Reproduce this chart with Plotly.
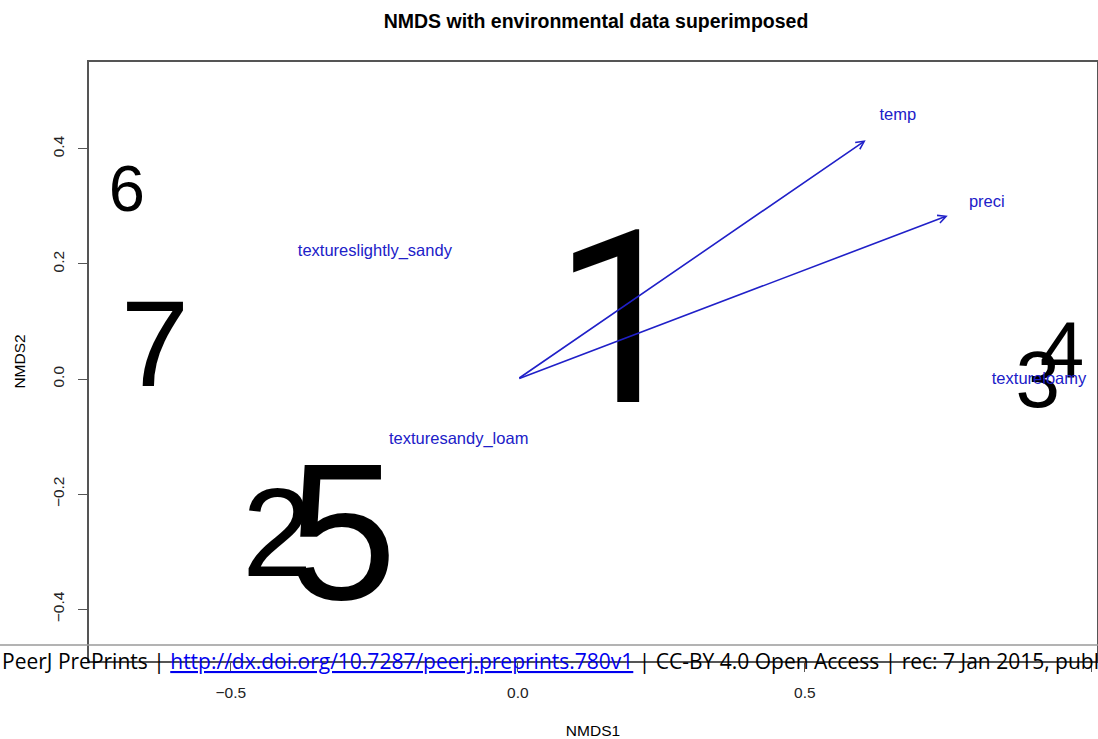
import plotly.graph_objects as go

# Site scores (NMDS1, NMDS2) and their label sizes
site_labels = ["1", "2", "3", "4", "5", "6", "7"]
site_x = [0.180, -0.419, 0.906, 0.948, -0.305, -0.681, -0.632]
site_y = [0.066, -0.288, -0.014, 0.038, -0.298, 0.321, 0.042]
site_size = [242, 126, 80, 80, 195, 65, 123]

# Environmental vectors
vec_names = ["temp", "preci"]
vec_x = [0.606, 0.749]
vec_y = [0.415, 0.284]
vec_lab_x = [0.662, 0.817]
vec_lab_y = [0.458, 0.307]

# Factor centroids
fac_names = ["textureslightly_sandy", "texturesandy_loam", "textureloamy"]
fac_x = [-0.249, -0.103, 0.908]
fac_y = [0.221, -0.106, -0.002]

x_ticks = [-0.5, 0.0, 0.5, 1.0]
y_ticks = [-0.4, -0.2, 0.0, 0.2, 0.4]

BLUE = "#2020c8"
FONT = "Liberation Sans, Arial, sans-serif"
DIGIT_FONT = {"1": "Roboto"}

fig = go.Figure()

for lab, x, y, s in zip(site_labels, site_x, site_y, site_size):
    fig.add_trace(go.Scatter(
        x=[x], y=[y], mode="text", text=[lab], textposition="middle center",
        textfont=dict(family=DIGIT_FONT.get(lab, FONT), size=s, color="black"),
        showlegend=False, hoverinfo="skip"))

fig.add_trace(go.Scatter(
    x=vec_lab_x, y=vec_lab_y, mode="text", text=vec_names,
    textposition="middle center", textfont=dict(family=FONT, size=16.5, color=BLUE),
    showlegend=False, hoverinfo="skip"))

fig.add_trace(go.Scatter(
    x=fac_x, y=fac_y, mode="text", text=fac_names,
    textposition="middle center", textfont=dict(family=FONT, size=16.5, color=BLUE),
    showlegend=False, hoverinfo="skip"))

annotations = []
for vx, vy in zip(vec_x, vec_y):
    annotations.append(dict(
        x=vx, y=vy, ax=0, ay=0, xref="x", yref="y", axref="x", ayref="y",
        showarrow=True, arrowhead=5, arrowsize=1, arrowwidth=1.6,
        arrowcolor=BLUE, text=""))

plot_w = 1097 - 89
plot_h = 661 - 62
wm_x = -89 / plot_w

annotations.append(dict(
    x=wm_x, y=0, xref="paper", yref="paper", xanchor="left", yanchor="middle",
    yshift=0, showarrow=False, align="left",
    text=("PeerJ PrePrints | <span style='color:#0000ee;text-decoration:underline'>"
          "http://dx.doi.org/10.7287/peerj.preprints.780v1</span> | CC-BY 4.0 Open Access"
          " | rec: 7 Jan 2015, publ: 7 Jan 2015"),
    font=dict(family="Open Sans, sans-serif", size=21, color="black")))

fig.update_layout(
    width=1098, height=739,
    margin=dict(l=89, r=1, t=62, b=78),
    paper_bgcolor="white", plot_bgcolor="white",
    title=dict(text="<b>NMDS with environmental data superimposed</b>",
               x=596 / 1098, xanchor="center", y=1 - 21 / 739, yanchor="middle",
               font=dict(family=FONT, size=19.5, color="black")),
    annotations=annotations,
    shapes=[dict(type="line", xref="paper", yref="paper",
                 x0=wm_x, x1=1.01, y0=16 / plot_h, y1=16 / plot_h,
                 line=dict(color="#9a9a9a", width=1.5), layer="above")],
)

fig.update_xaxes(
    range=[-0.747, 1.009], tickvals=x_ticks, ticktext=["\u22120.5", "0.0", "0.5", "1.0"],
    showgrid=False, zeroline=False, showline=True, mirror=True, linecolor="#555555",
    linewidth=1.5, ticks="outside", ticklen=9, tickcolor="#555555",
    tickfont=dict(family=FONT, size=15.5, color="#222222"), ticklabelstandoff=8,
    title=dict(text="NMDS1", font=dict(family=FONT, size=15.5, color="black"), standoff=26),
    automargin=False)

fig.update_yaxes(
    range=[-0.490, 0.551], tickvals=y_ticks, ticktext=["\u22120.4", "\u22120.2", "0.0", "0.2", "0.4"],
    showgrid=False, zeroline=False, showline=True, mirror=True, linecolor="#555555",
    linewidth=1.5, ticks="outside", ticklen=9, tickcolor="#555555", tickangle=-90,
    tickfont=dict(family=FONT, size=15.5, color="#222222"), ticklabelstandoff=8,
    title=dict(text="NMDS2", font=dict(family=FONT, size=15.5, color="black"), standoff=21),
    automargin=False)

fig.write_html("out.html", config={"displayModeBar": False},
               post_script="document.body.style.margin='0';")
